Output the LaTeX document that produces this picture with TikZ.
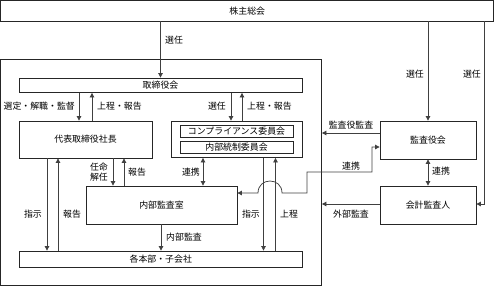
\documentclass[tikz,border=0pt]{standalone}
\usepackage{fontspec}
\newfontfamily\jp{Noto Sans CJK JP}
\usetikzlibrary{arrows.meta}
\begin{document}
\begin{tikzpicture}[x=1pt,y=-1pt,
  every node/.style={font=\jp\fontsize{8.9}{10.2}\selectfont, text=black, inner sep=0pt},
  box/.style={draw=black!85, line width=0.8pt, rectangle},
  ln/.style={draw=black!75, line width=0.75pt},
  arr/.style={ln, -{Triangle[length=4.5pt,width=4.5pt]}},
  darr/.style={ln, {Triangle[length=4.5pt,width=4.5pt]}-{Triangle[length=4.5pt,width=4.5pt]}},
  lbl/.style={}]
\useasboundingbox (0,0) rectangle (495,287);
% boxes
\node[box, minimum width=493pt, minimum height=20.5pt] (gm) at (247.25,10.75) {株主総会};
\node[box, minimum width=321pt, minimum height=226.5pt] (outer) at (161,172.25) {};
\node[box, minimum width=283pt, minimum height=14.5pt] (board) at (160.5,85.25) {取締役会};
\node[box, minimum width=133pt, minimum height=37pt] (ceo) at (85.5,139.5) {代表取締役社長};
\node[box, minimum width=131pt, minimum height=36.5pt] (comp) at (236.5,139.25) {};
\node[box, minimum width=113pt, minimum height=12pt] (compl) at (236.5,131) {コンプライアンス委員会};
\node[box, minimum width=113pt, minimum height=12pt] (ictl) at (236.5,147) {内部統制委員会};
\node[box, minimum width=151pt, minimum height=38pt] (audit) at (161.5,205) {内部監査室};
\node[box, minimum width=283.5pt, minimum height=16pt] (div) at (160.75,259) {各本部・子会社};
\node[box, minimum width=96pt, minimum height=38pt] (ksy) at (428,140) {監査役会};
\node[box, minimum width=96pt, minimum height=38pt] (kai) at (428,205) {会計監査人};
% general meeting
\draw[arr] (160.5,0 |- gm.south) -- (160.5,0 |- board.north);
\node[anchor=west] (l1) at (165,40) {選任};
\draw[arr] (428,0 |- gm.south) -- (ksy.north);
\node[anchor=east] (l2) at (424,74) {選任};
\coordinate (c484) at (484,204);
\draw[arr] (484,0 |- gm.south) -- (c484) -- (kai.east |- c484);
\node[anchor=east] (l3) at (481,74) {選任};
% board <-> ceo
\draw[arr] (79,0 |- board.south) -- (79,0 |- ceo.north);
\draw[arr] (92,0 |- ceo.north) -- (92,0 |- board.south);
\node[anchor=east] (l4) at (75,106) {選定・解職・監督};
\node[anchor=west] (l5) at (97,106) {上程・報告};
% board <-> comp
\draw[arr] (231,0 |- board.south) -- (231,0 |- comp.north);
\draw[arr] (242,0 |- comp.north) -- (242,0 |- board.south);
\node[anchor=east] (l6) at (226,106) {選任};
\node[anchor=west] (l7) at (247,106) {上程・報告};
% ceo <-> audit
\draw[arr] (113,0 |- ceo.south) -- (113,0 |- audit.north);
\draw[arr] (124,0 |- audit.north) -- (124,0 |- ceo.south);
\node[anchor=east, align=center] (l8) at (108,172) {任命\\解任};
\node[anchor=west] (l9) at (128,172) {報告};
% comp <-> audit
\draw[darr] (203,0 |- comp.south) -- (203,0 |- audit.north);
\node[anchor=east] (l10) at (200,172) {連携};
% ceo <-> div
\draw[arr] (47,0 |- ceo.south) -- (47,0 |- div.north);
\draw[arr] (58,0 |- div.north) -- (58,0 |- ceo.south);
\node[anchor=east] (l11) at (42,214) {指示};
\node[anchor=west] (l12) at (63,214) {報告};
% audit -> div
\draw[arr] (161,0 |- audit.south) -- (161,0 |- div.north);
\node[anchor=west] (l13) at (166,237) {内部監査};
% comp <-> div
\draw[arr] (263.5,0 |- comp.south) -- (263.5,0 |- div.north);
\draw[arr] (275.5,0 |- div.north) -- (275.5,0 |- comp.south);
\node[anchor=east] (l14) at (260,214) {指示};
\node[anchor=west] (l15) at (280,214) {上程};
% kansayaku audit
\draw[arr] (ksy.west |- 0,133) -- (outer.east |- 0,133);
\node (l16) at (351,125) {監査役監査};
% renkei path with hop
\coordinate (r1) at (372,147);
\coordinate (r2) at (372,172);
\coordinate (r3) at (307,172);
\coordinate (r4) at (307,193);
\coordinate (h1) at (282,193);
\coordinate (h2) at (258,193);
\draw[darr] (ksy.west |- r1) -- (r1) -- (r2) -- (r3) -- (r4) -- (h1)
  .. controls (282,177) and (258,177) .. (h2) -- (audit.east |- h2);
\node (l17) at (351,166) {連携};
% ksy <-> kai
\draw[darr] (ksy.south) -- (kai.north);
\node[anchor=west] (l18) at (432,171) {連携};
% external audit
\draw[arr] (kai.west |- 0,204) -- (outer.east |- 0,204);
\node (l19) at (351,214) {外部監査};
\end{tikzpicture}
\end{document}
